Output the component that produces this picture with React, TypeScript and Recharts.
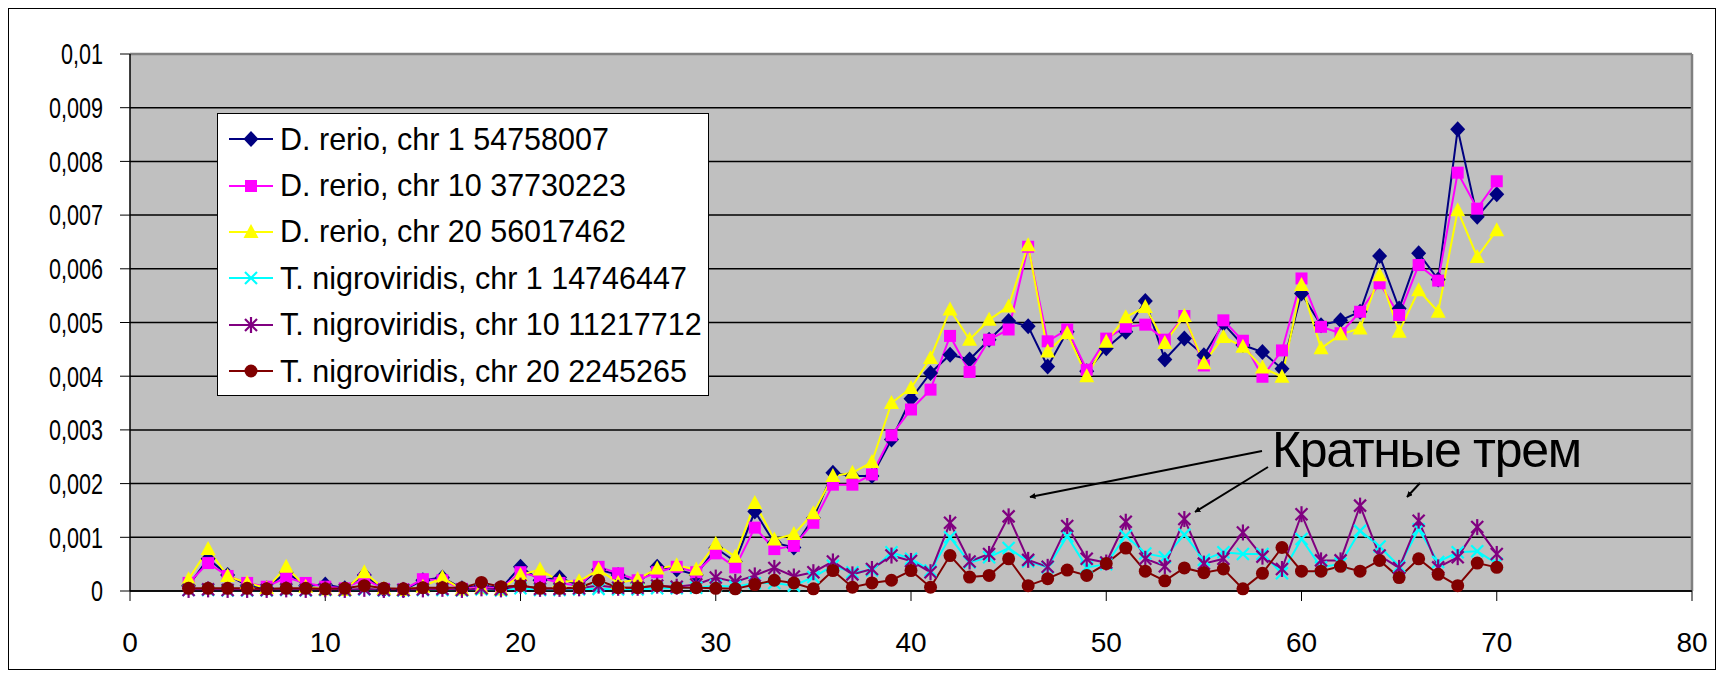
import React from "react";
import {
  LineChart,
  Line,
  XAxis,
  YAxis,
  CartesianGrid,
  ReferenceLine,
} from "recharts";

// positions 3..70
const positions = [
  3, 4, 5, 6, 7, 8, 9, 10, 11, 12,
  13, 14, 15, 16, 17, 18, 19, 20, 21, 22,
  23, 24, 25, 26, 27, 28, 29,
  30, 31, 32, 33, 34, 35, 36, 37, 38, 39,
  40, 41, 42, 43, 44, 45, 46, 47, 48, 49,
  50, 51, 52, 53, 54, 55, 56, 57, 58, 59,
  60, 61, 62, 63, 64, 65, 66, 67, 68, 69,
  70,
];

const drChr1 = [
  0.0001, 0.0006, 0.0003, 0.0001, 0.00005, 0.00035, 0.0001, 0.00012, 0.00005, 0.0003,
  0.00003, 0.00002, 0.0002, 0.00025, 0.00005, 0.0001, 0.00005, 0.00045, 0.0002, 0.00025,
  0.0001, 0.0004, 0.0003, 0.00015, 0.00045, 0.0004, 0.0003,
  0.0008, 0.00055, 0.00148, 0.0009, 0.00081, 0.00136, 0.0022, 0.00214, 0.00214, 0.00282,
  0.00358, 0.00406, 0.0044, 0.00431, 0.00468, 0.00503, 0.00493, 0.00418, 0.00483, 0.00409,
  0.00452, 0.00483, 0.0054, 0.00431, 0.0047, 0.00439, 0.00498, 0.00458, 0.00445, 0.00414,
  0.00554, 0.00495, 0.00504, 0.0052, 0.00624, 0.00526, 0.00629, 0.0058, 0.0086, 0.00697,
  0.00739,
];

const drChr10 = [
  0.00015, 0.00052, 0.00028, 0.00015, 0.00008, 0.00025, 0.00015, 0.00008, 0.00005, 0.00022,
  0.00004, 0.00003, 0.00022, 0.0002, 0.00004, 0.00008, 0.00004, 0.00035, 0.00025, 0.00015,
  0.0001, 0.00045, 0.00033, 0.0002, 0.00035, 0.00045, 0.00035,
  0.0007, 0.00044, 0.00118, 0.00078, 0.00084, 0.00127, 0.00198, 0.00198, 0.00217, 0.0029,
  0.00338, 0.00375, 0.00475, 0.00408, 0.00468, 0.00487, 0.00641, 0.00465, 0.00487, 0.00412,
  0.0047, 0.00492, 0.00496, 0.00468, 0.00512, 0.0042, 0.00504, 0.00466, 0.00399, 0.00448,
  0.00582, 0.00492, 0.0048, 0.0052, 0.00573, 0.00514, 0.00607, 0.00578, 0.00779, 0.00712,
  0.00763,
];

const drChr20 = [
  0.00022, 0.00078, 0.00028, 0.00015, 0.00005, 0.00045, 0.00008, 0.00003, 0.00002, 0.00035,
  0.00004, 0.00002, 0.00008, 0.00025, 0.00003, 0.00005, 0.00003, 0.0003, 0.0004, 0.00018,
  0.00018, 0.0004, 0.00015, 0.00022, 0.00042, 0.00048, 0.0004,
  0.00088, 0.00064, 0.00164, 0.00096, 0.00106, 0.00145, 0.00214, 0.0022, 0.0024, 0.0035,
  0.00378, 0.00434, 0.00524, 0.00468, 0.00505, 0.0053, 0.00644, 0.00446, 0.0048, 0.004,
  0.00464, 0.0051, 0.00529, 0.00462, 0.00512, 0.00424, 0.00473, 0.00455, 0.00416, 0.00399,
  0.0057, 0.00452, 0.00478, 0.00489, 0.00588, 0.00483, 0.0056, 0.0052, 0.00709, 0.00622,
  0.00672,
];

const tnChr1 = [
  0.00002, 0.00002, 0.00001, 0.00001, 0.00001, 0.00002, 0.00001, 0.00002, 0.00001, 0.00003,
  0.00001, 0.00001, 0.00002, 0.00002, 0.00001, 0.00003, 0.00001, 0.00005, 0.00002, 0.00002,
  0.00003, 0.00004, 0.00003, 0.00003, 0.00005, 0.00005, 0.00006,
  0.0001, 0.00008, 0.00015, 0.00015, 0.0001, 0.00026, 0.00047, 0.00035, 0.00038, 0.00072,
  0.0006, 0.00038, 0.001, 0.00053, 0.00063, 0.0008, 0.00055, 0.00044, 0.00102, 0.00044,
  0.0005, 0.00103, 0.0007, 0.00063, 0.00105, 0.00058, 0.00072, 0.00069, 0.00069, 0.00033,
  0.00097, 0.00044, 0.00051, 0.00112, 0.00083, 0.00046, 0.00115, 0.00054, 0.00072, 0.00074,
  0.00051,
];

const tnChr10 = [
  0.00002, 0.00003, 0.00002, 0.00002, 0.00002, 0.00003, 0.00002, 0.00003, 0.00002, 0.00004,
  0.00002, 0.00002, 0.00003, 0.00004, 0.00002, 0.00005, 0.00003, 0.0001, 0.00004, 0.00004,
  0.00005, 0.0001, 0.00006, 0.00006, 0.0001, 0.00008, 0.00012,
  0.00025, 0.00017, 0.00029, 0.00043, 0.00027, 0.00035, 0.00055, 0.00031, 0.00041, 0.00066,
  0.00056, 0.00035, 0.00127, 0.00055, 0.00069, 0.00139, 0.00058, 0.00045, 0.00121, 0.0006,
  0.00053, 0.00129, 0.0006, 0.00046, 0.00134, 0.00051, 0.0006, 0.00109, 0.00064, 0.00041,
  0.00143, 0.00057, 0.00057, 0.00159, 0.00066, 0.00043, 0.00131, 0.00044, 0.00063, 0.00119,
  0.00069,
];

const tnChr20 = [
  0.00005, 0.00005, 0.00005, 0.00005, 0.00004, 0.00005, 0.00005, 0.00004, 0.00005, 0.0001,
  0.00005, 0.00004, 0.00006, 0.00006, 0.00006, 0.00016, 0.00008, 0.0001, 0.00005, 0.00005,
  0.00006, 0.0002, 0.00006, 0.00006, 0.0001, 0.00006, 0.00006,
  0.00005, 0.00004, 0.00012, 0.0002, 0.00015, 0.00004, 0.00038, 0.00007, 0.00015, 0.0002,
  0.00038, 0.00007, 0.00066, 0.00026, 0.00029, 0.0006, 0.0001, 0.00023, 0.00039, 0.00029,
  0.00051, 0.0008, 0.00037, 0.00019, 0.00043, 0.00034, 0.00041, 0.00004, 0.00033, 0.00081,
  0.00037, 0.00037, 0.00046, 0.00037, 0.00057, 0.00025, 0.0006, 0.00031, 0.0001, 0.00052,
  0.00044,
];

const xTicks = [0, 10, 20, 30, 40, 50, 60, 70, 80];
const yTicks = [0, 0.001, 0.002, 0.003, 0.004, 0.005, 0.006, 0.007, 0.008, 0.009, 0.01];

const annotationText = "Кратные трем";

type Shape = "diamond" | "square" | "triangle" | "cross" | "star" | "circle";

const series: { key: string; name: string; color: string; shape: Shape; values: number[] }[] = [
  { key: "d1", name: "D. rerio, chr 1 54758007", color: "#000080", shape: "diamond", values: drChr1 },
  { key: "d10", name: "D. rerio, chr 10 37730223", color: "#FF00FF", shape: "square", values: drChr10 },
  { key: "d20", name: "D. rerio, chr 20 56017462", color: "#FFFF00", shape: "triangle", values: drChr20 },
  { key: "t1", name: "T. nigroviridis, chr 1 14746447", color: "#00FFFF", shape: "cross", values: tnChr1 },
  { key: "t10", name: "T. nigroviridis, chr 10 11217712", color: "#800080", shape: "star", values: tnChr10 },
  { key: "t20", name: "T. nigroviridis, chr 20 2245265", color: "#800000", shape: "circle", values: tnChr20 },
];

const data = positions.map((x, i) => {
  const row: Record<string, number> = { x };
  series.forEach((s) => {
    row[s.key] = s.values[i];
  });
  return row;
});

const FONT = "'Liberation Sans', Arial, sans-serif";

function Marker({ shape, color, cx, cy }: { shape: Shape; color: string; cx: number; cy: number }) {
  if (cx == null || cy == null) return null;
  switch (shape) {
    case "diamond":
      return (
        <polygon
          points={`${cx},${cy - 8} ${cx + 7.5},${cy} ${cx},${cy + 8} ${cx - 7.5},${cy}`}
          fill={color}
        />
      );
    case "square":
      return <rect x={cx - 6} y={cy - 6} width={12} height={12} fill={color} />;
    case "triangle":
      return (
        <polygon
          points={`${cx},${cy - 8} ${cx + 7.5},${cy + 6} ${cx - 7.5},${cy + 6}`}
          fill={color}
        />
      );
    case "cross":
      return (
        <g stroke={color} strokeWidth={2.2}>
          <line x1={cx - 6} y1={cy - 6} x2={cx + 6} y2={cy + 6} />
          <line x1={cx - 6} y1={cy + 6} x2={cx + 6} y2={cy - 6} />
        </g>
      );
    case "star":
      return (
        <g stroke={color} strokeWidth={2.2}>
          <line x1={cx - 6} y1={cy - 6} x2={cx + 6} y2={cy + 6} />
          <line x1={cx - 6} y1={cy + 6} x2={cx + 6} y2={cy - 6} />
          <line x1={cx} y1={cy - 8} x2={cx} y2={cy + 8} />
        </g>
      );
    default:
      return <circle cx={cx} cy={cy} r={6.5} fill={color} />;
  }
}

const fmtY = (v: number) => String(Number(v.toFixed(3))).replace(".", ",");

// excel's labels come out narrow and tall, so squeeze them a bit
function YTick({ x, y, payload }: any) {
  return (
    <text
      x={0}
      y={0}
      transform={`translate(${x},${y}) scale(0.72,1)`}
      textAnchor="end"
      dominantBaseline="central"
      fontSize={30}
      fontFamily={FONT}
      fill="#000"
    >
      {fmtY(payload.value)}
    </text>
  );
}

function ChartLegend() {
  return (
    <div
      style={{
        position: "absolute",
        left: 208,
        top: 104,
        width: 490,
        height: 279,
        background: "#fff",
        border: "1px solid #000",
        paddingTop: 2,
        boxSizing: "content-box",
      }}
    >
      {series.map((s) => (
        <div
          key={s.key}
          style={{ height: 46.4, display: "flex", alignItems: "center", fontFamily: FONT }}
        >
          <svg width={52} height={30} style={{ marginLeft: 10, flexShrink: 0 }}>
            <line x1={1} y1={15} x2={45} y2={15} stroke={s.color} strokeWidth={2} />
            <Marker shape={s.shape} color={s.color} cx={23} cy={15} />
          </svg>
          <span style={{ fontSize: 30.5, color: "#000", whiteSpace: "nowrap" }}>{s.name}</span>
        </div>
      ))}
    </div>
  );
}

function Annotation() {
  const arrows = [
    [1253, 442, 1021, 488],
    [1259, 458, 1186, 503],
    [1411, 474, 1398, 488],
  ];
  return (
    <svg
      width={1706}
      height={660}
      style={{ position: "absolute", left: 0, top: 0, pointerEvents: "none" }}
    >
      <defs>
        <marker
          id="arrowHead"
          viewBox="0 0 10 10"
          refX={9}
          refY={5}
          markerWidth={6}
          markerHeight={6}
          orient="auto"
          markerUnits="userSpaceOnUse"
        >
          <path d="M0,0 L10,5 L0,10 z" fill="#000" />
        </marker>
      </defs>
      {arrows.map((a, i) => (
        <line
          key={i}
          x1={a[0]}
          y1={a[1]}
          x2={a[2]}
          y2={a[3]}
          stroke="#000"
          strokeWidth={2}
          markerEnd="url(#arrowHead)"
        />
      ))}
      <text x={1263} y={458} fontSize={50} fontFamily={FONT} fill="#000" textLength={310}>
        {annotationText}
      </text>
    </svg>
  );
}

export default function App() {
  return (
    <div
      style={{
        position: "relative",
        width: 1706,
        height: 660,
        border: "1px solid #000",
        background: "#fff",
      }}
    >
      <LineChart
        width={1706}
        height={660}
        data={data}
        margin={{ top: 45, right: 23, bottom: 28, left: 41 }}
      >
        <CartesianGrid
          vertical={false}
          stroke="#000"
          strokeWidth={1.5}
          fill="#C0C0C0"
          fillOpacity={1}
        />
        <XAxis
          type="number"
          dataKey="x"
          domain={[0, 80]}
          ticks={xTicks}
          interval={0}
          height={50}
          tickSize={10}
          tickMargin={31}
          axisLine={{ stroke: "#000", strokeWidth: 1.5 }}
          tickLine={{ stroke: "#000" }}
          tick={{ fill: "#000", fontSize: 28, fontFamily: FONT }}
        />
        <YAxis
          type="number"
          domain={[0, 0.01]}
          ticks={yTicks}
          interval={0}
          width={80}
          tickSize={10}
          tickMargin={17}
          axisLine={{ stroke: "#000", strokeWidth: 1.5 }}
          tickLine={{ stroke: "#000" }}
          tick={<YTick />}
        />
        <ReferenceLine y={0.01} stroke="#808080" strokeWidth={2.5} />
        <ReferenceLine x={80} stroke="#808080" strokeWidth={2.5} />
        {series.map((s) => (
          <Line
            key={s.key}
            type="linear"
            dataKey={s.key}
            name={s.name}
            stroke={s.color}
            strokeWidth={2}
            isAnimationActive={false}
            activeDot={false}
            dot={(p: any) => (
              <Marker key={`${s.key}-${p.index}`} shape={s.shape} color={s.color} cx={p.cx} cy={p.cy} />
            )}
          />
        ))}
      </LineChart>
      <ChartLegend />
      <Annotation />
    </div>
  );
}
